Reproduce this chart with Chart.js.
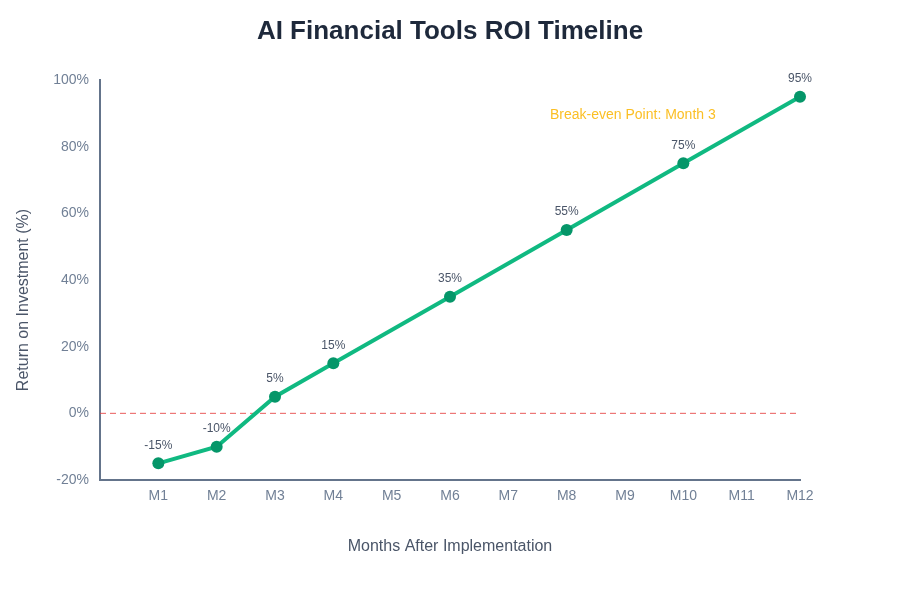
<!DOCTYPE html>
<html>
<head>
<meta charset="utf-8">
<script src="https://cdn.jsdelivr.net/npm/chart.js"></script>
<style>
    html, body { margin: 0; padding: 0; background: #ffffff; }
    #wrap { width: 900px; height: 600px; position: relative; }
</style>
</head>
<body>
<div id="wrap"><canvas id="roiChart"></canvas></div>
<script>
// chart data
const monthLabels = ["M1", "M2", "M3", "M4", "M5", "M6", "M7", "M8", "M9", "M10", "M11", "M12"];
const roiMonths = [1, 2, 3, 4, 6, 8, 10, 12];
const roiValues = [-15, -10, 5, 15, 35, 55, 75, 95];
const breakEvenLine = [0, 0];
const breakEvenSpan = [0, 12];
const yTicks = [-20, 0, 20, 40, 60, 80, 100];
const chartTitle = "AI Financial Tools ROI Timeline";
const yAxisTitle = "Return on Investment (%)";
const breakEvenText = "Break-even Point: Month 3";

const FONT = "'Liberation Sans', Arial, sans-serif";

// title centered on the canvas, y title, value labels above points, break-even note
const labelPlugin = {
    id: "roiLabels",
    afterDatasetsDraw(chart) {
        const ctx = chart.ctx;
        const meta = chart.getDatasetMeta(0);
        ctx.save();
        ctx.font = "12px " + FONT;
        ctx.fillStyle = "#4a5568";
        ctx.textAlign = "center";
        ctx.textBaseline = "bottom";
        meta.data.forEach((pt, i) => {
            ctx.fillText(roiValues[i] + "%", pt.x, pt.y - 12);
        });
        const area = chart.chartArea;
        ctx.font = "14px " + FONT;
        ctx.fillStyle = "#fbbf24";
        ctx.textAlign = "left";
        ctx.textBaseline = "middle";
        ctx.fillText(breakEvenText, area.right - 250, area.top + 35);

        ctx.font = "bold 26px " + FONT;
        ctx.fillStyle = "#1e293b";
        ctx.textAlign = "center";
        ctx.fillText(chartTitle, chart.width / 2, 32);

        // y axis title, centered on the canvas height
        ctx.translate(24, chart.height / 2);
        ctx.rotate(-Math.PI / 2);
        ctx.font = "16px " + FONT;
        ctx.fillStyle = "#4a5568";
        ctx.fillText(yAxisTitle, 0, 0);
        ctx.restore();
    }
};

const ctx = document.getElementById("roiChart").getContext("2d");

const roiChart = new Chart(ctx, {
    type: "line",
    data: {
        datasets: [
            {
                label: "ROI",
                data: roiMonths.map((m, i) => ({ x: m, y: roiValues[i] })),
                borderColor: "#10b981",
                backgroundColor: "#059669",
                borderWidth: 4,
                pointRadius: 6,
                pointBackgroundColor: "#059669",
                pointBorderWidth: 0,
                tension: 0,
                fill: false,
                clip: false,
            },
            {
                label: "Break-even",
                data: breakEvenSpan.map((m, i) => ({ x: m, y: breakEvenLine[i] })),
                borderColor: "rgba(229, 62, 62, 0.85)",
                borderWidth: 1,
                borderDash: [6, 4],
                pointRadius: 0,
                fill: false,
            },
        ],
    },
    plugins: [labelPlugin],
    options: {
        responsive: true,
        maintainAspectRatio: false,
        animation: false,
        layout: {
            padding: { left: 10, right: 100, top: 80, bottom: 40 },
        },
        scales: {
            x: {
                type: "linear",
                min: 0,
                max: 12,
                grid: { display: false },
                border: { display: true, color: "#64748b", width: 2 },
                afterBuildTicks: (scale) => {
                    scale.ticks = monthLabels.map((l, i) => ({ value: i + 1 }));
                },
                ticks: {
                    color: "#718096",
                    font: { family: FONT, size: 14 },
                    padding: 0,
                    maxRotation: 0,
                    autoSkip: false,
                    callback: (v) => monthLabels[v - 1],
                },
                title: {
                    display: true,
                    text: "Months After Implementation",
                    color: "#4a5568",
                    font: { family: FONT, size: 16 },
                },
                afterFit: (scale) => { scale.height = 80; },
            },
            y: {
                min: -20,
                max: 100,
                grid: { display: false },
                border: { display: true, color: "#64748b", width: 2 },
                afterBuildTicks: (scale) => {
                    scale.ticks = yTicks.map((v) => ({ value: v }));
                },
                ticks: {
                    color: "#718096",
                    font: { family: FONT, size: 14 },
                    padding: 3,
                    callback: (v) => v + "%",
                },
                title: { display: false },
                afterFit: (scale) => { scale.width = 90; },
            },
        },
        plugins: {
            legend: { display: false },
            tooltip: { enabled: false },
            title: { display: false },
        },
    },
});
</script>
</body>
</html>
